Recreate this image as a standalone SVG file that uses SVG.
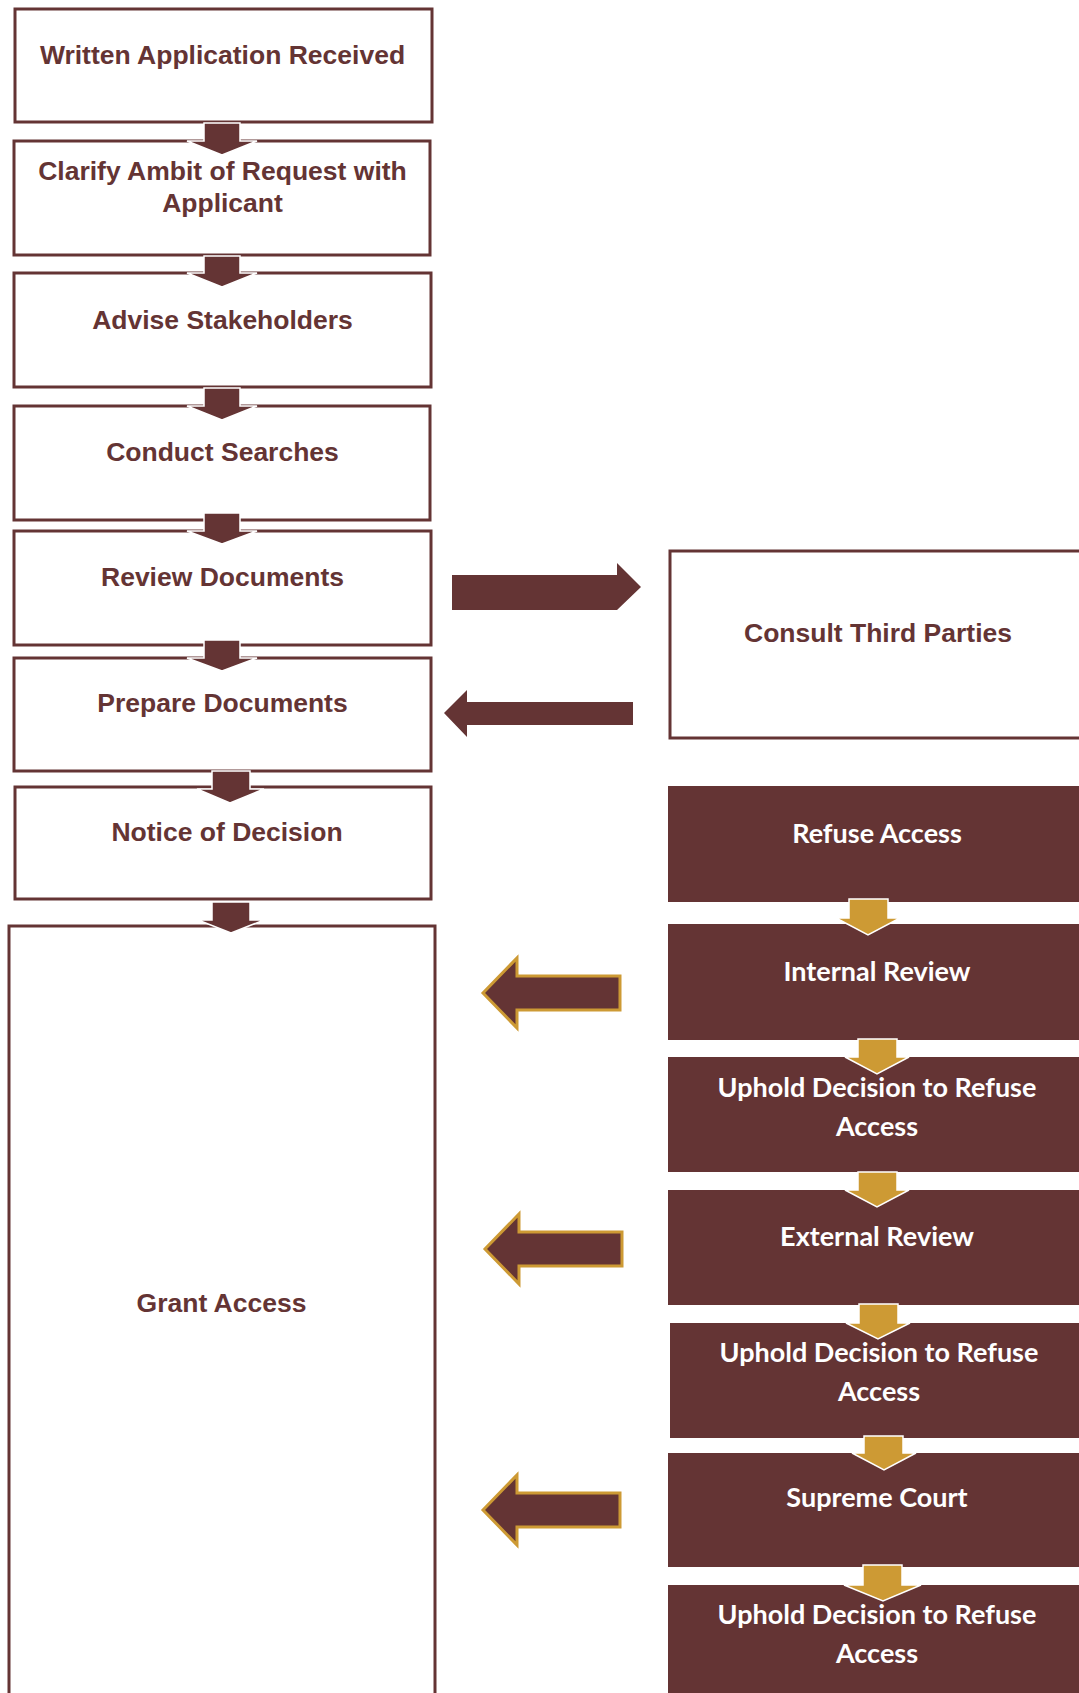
<svg xmlns="http://www.w3.org/2000/svg" width="1079" height="1693" viewBox="0 0 1079 1693">
<defs>
<style>
.box{fill:#ffffff;stroke:#643434;stroke-width:3}
.dbox{fill:#643434}
.t{font-family:"Liberation Sans",Arial,sans-serif;font-weight:bold;font-size:26.5px;fill:#643434;text-anchor:middle}
.w{font-family:Lato,"Open Sans",sans-serif;font-weight:bold;font-size:27px;fill:#ffffff;text-anchor:middle}
.da{fill:#643434;stroke:#ffffff;stroke-width:1.5}
.ga{fill:#cd9a34;stroke:#ffffff;stroke-width:1.5}
.la{fill:#643434;stroke:#cd9a34;stroke-width:3}
.ra{fill:#643434}
</style>
</defs>
<rect width="1079" height="1693" fill="#ffffff"/>
<g id="written-application">
<rect class="box" x="15" y="9" width="417" height="113"/>
<text class="t" x="222.5" y="64">Written Application Received</text>
</g>
<g id="clarify-ambit">
<rect class="box" x="14" y="141" width="416" height="114"/>
<text class="t" x="222.5" y="180">Clarify Ambit of Request with</text>
<text class="t" x="222.5" y="212">Applicant</text>
</g>
<g id="advise-stakeholders">
<rect class="box" x="14" y="273" width="417" height="114"/>
<text class="t" x="222.5" y="329">Advise Stakeholders</text>
</g>
<g id="conduct-searches">
<rect class="box" x="14" y="406" width="416" height="114"/>
<text class="t" x="222.5" y="461">Conduct Searches</text>
</g>
<g id="review-documents">
<rect class="box" x="14" y="531" width="417" height="114"/>
<text class="t" x="222.5" y="586">Review Documents</text>
</g>
<g id="prepare-documents">
<rect class="box" x="14" y="658" width="417" height="113"/>
<text class="t" x="222.5" y="712">Prepare Documents</text>
</g>
<g id="notice-of-decision">
<rect class="box" x="15" y="787" width="416" height="112"/>
<text class="t" x="227" y="841">Notice of Decision</text>
</g>
<g id="grant-access">
<rect class="box" x="9" y="926" width="426" height="800"/>
<text class="t" x="221.5" y="1312">Grant Access</text>
</g>
<g id="consult-third-parties">
<rect class="box" x="670" y="551" width="430" height="187"/>
<text class="t" x="878" y="642">Consult Third Parties</text>
</g>
<g id="refuse-access">
<rect class="dbox" x="668" y="786" width="420" height="116"/>
<text class="w" x="877" y="843">Refuse Access</text>
</g>
<g id="internal-review">
<rect class="dbox" x="668" y="924" width="420" height="116"/>
<text class="w" x="877" y="981">Internal Review</text>
</g>
<g id="uphold-1">
<rect class="dbox" x="668" y="1057" width="420" height="115"/>
<text class="w" x="877" y="1097">Uphold Decision to Refuse</text>
<text class="w" x="877" y="1136">Access</text>
</g>
<g id="external-review">
<rect class="dbox" x="668" y="1190" width="420" height="115"/>
<text class="w" x="877" y="1246">External Review</text>
</g>
<g id="uphold-2">
<rect class="dbox" x="670" y="1323" width="420" height="115"/>
<text class="w" x="879" y="1362">Uphold Decision to Refuse</text>
<text class="w" x="879" y="1401">Access</text>
</g>
<g id="supreme-court">
<rect class="dbox" x="668" y="1453" width="420" height="114"/>
<text class="w" x="877" y="1507">Supreme Court</text>
</g>
<g id="uphold-3">
<rect class="dbox" x="668" y="1585" width="420" height="120"/>
<text class="w" x="877" y="1624">Uphold Decision to Refuse</text>
<text class="w" x="877" y="1663">Access</text>
</g>
<g id="connectors">
<polygon class="da" points="204,123 240,123 240,141 257,141 222,155 187,141 204,141"/>
<polygon class="da" points="204,256 240,256 240,273 257,273 222,287 187,273 204,273"/>
<polygon class="da" points="204,388 240,388 240,406 257,406 222,420 187,406 204,406"/>
<polygon class="da" points="204,513 240,513 240,531 257,531 222,544 187,531 204,531"/>
<polygon class="da" points="204,640 240,640 240,658 257,658 222,671 187,658 204,658"/>
<polygon class="da" points="212,771 250,771 250,789 264,789 230,803 197,789 212,789"/>
<polygon class="da" points="212,902 250,902 250,920 264,920 231,933 198,920 212,920"/>
<polygon class="ra" points="452,575 617,575 617,563 641,587 617,610 452,610 452,599"/>
<polygon class="ra" points="633,702 467,702 467,690 444,713 467,737 467,725 633,725"/>
<polygon class="ga" points="849,899 888,899 888,918 900,918 868,935 836,918 849,918"/>
<polygon class="ga" points="858,1039 897,1039 897,1057 909,1057 877,1074 845,1057 858,1057"/>
<polygon class="ga" points="858,1172 897,1172 897,1190 909,1190 877,1207 845,1190 858,1190"/>
<polygon class="ga" points="859,1304 898,1304 898,1323 910,1323 878,1339 846,1323 859,1323"/>
<polygon class="ga" points="864,1436 903,1436 903,1453 916,1453 884,1470 852,1453 864,1453"/>
<polygon class="ga" points="863,1565 902,1565 902,1585 921,1585 883,1601 844,1585 863,1585"/>
<polygon class="la" points="620,976 517,976 517,958 483,993 517,1028 517,1010 620,1010"/>
<polygon class="la" points="622,1232 519,1232 519,1214 485,1249 519,1284 519,1266 622,1266"/>
<polygon class="la" points="620,1493 517,1493 517,1475 483,1510 517,1545 517,1527 620,1527"/>
</g>
</svg>
